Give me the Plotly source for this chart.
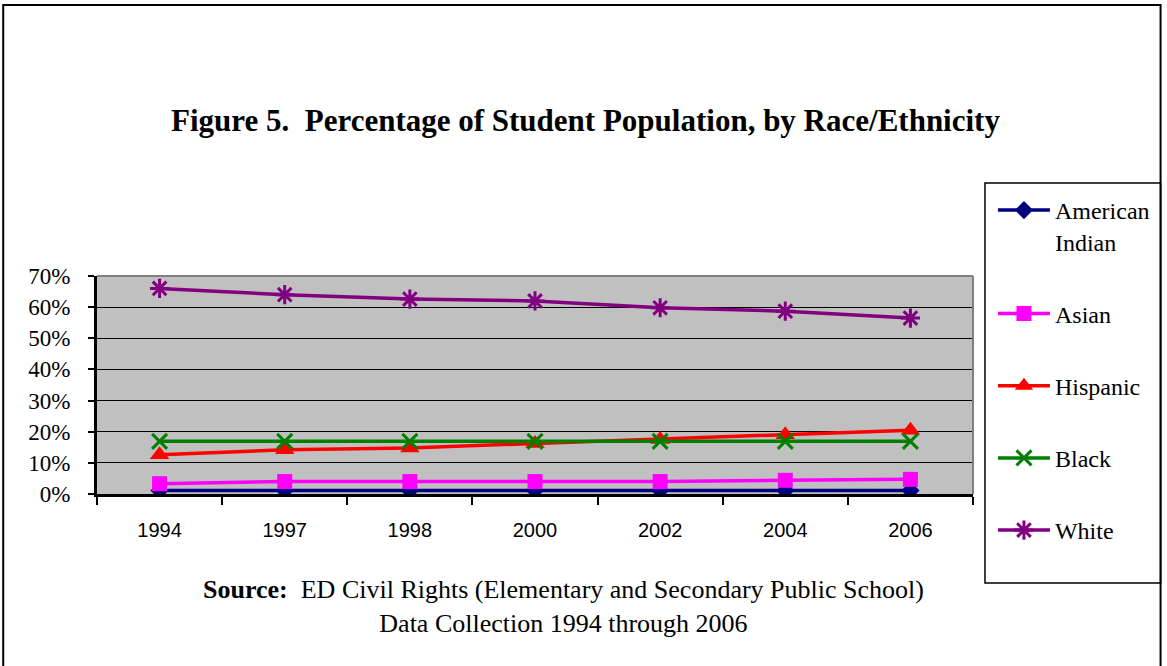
import plotly.graph_objects as go

years = ["1994", "1997", "1998", "2000", "2002", "2004", "2006"]
american_indian = [1.1, 1.1, 1.1, 1.1, 1.1, 1.1, 1.1]
asian = [3.3, 4.0, 4.0, 4.0, 4.0, 4.4, 4.7]
hispanic = [12.6, 14.2, 14.8, 16.2, 17.5, 19.0, 20.5]
black = [16.9, 16.9, 16.9, 16.9, 16.9, 16.9, 16.9]
white = [66.0, 64.0, 62.6, 62.0, 59.8, 58.7, 56.5]
y_ticks = [0, 10, 20, 30, 40, 50, 60, 70]
y_labels = [f"{v}%" for v in y_ticks]

series = [
    ("American<br>Indian", american_indian, "#000080", "diamond", 14),
    ("Asian", asian, "#FF00FF", "square", 15),
    ("Hispanic", hispanic, "#FF0000", "triangle-up", 17),
    ("Black", black, "#008000", "x-thin", 15),
    ("White", white, "#800080", "asterisk", 16),
]

W, H = 1167, 666
L, R, T, B = 97, 975, 276, 494

fig = go.Figure()
for i, (name, vals, col, sym, sz) in enumerate(series):
    thin = sym in ("x-thin", "asterisk")
    fig.add_trace(go.Scatter(
        x=years, y=vals, name=name, mode="lines+markers",
        legendgroup=f"g{i}",
        line=dict(color=col, width=3.5),
        marker=dict(symbol=sym, size=sz, color=col,
                    line=dict(color=col, width=3 if thin else 0)),
    ))

def px(x):
    return (x - L) / (R - L)

def py(y):
    return (B - y) / (B - T)

fig.update_layout(
    width=W, height=H,
    margin=dict(l=L, r=W - R, t=T, b=H - B, pad=0),
    paper_bgcolor="white",
    plot_bgcolor="#C0C0C0",
    font=dict(family="Liberation Serif", color="black"),
    showlegend=True,
    legend=dict(
        x=px(995), y=py(188), xanchor="left", yanchor="top",
        bgcolor="rgba(0,0,0,0)", borderwidth=0,
        font=dict(family="Liberation Serif", size=24, color="black"),
        tracegroupgap=38, valign="top", itemwidth=52,
        maxheight=600,
    ),
    xaxis=dict(
        type="category", showgrid=False,
        showline=True, linecolor="black", linewidth=3,
        ticks="outside", tickson="boundaries", ticklen=8, tickwidth=2, tickcolor="black",
        tickfont=dict(family="Liberation Sans", size=20, color="black"),
        ticklabelstandoff=16,
        range=[-0.5, 6.5],
    ),
    yaxis=dict(
        range=[0, 70], tickvals=y_ticks, ticktext=y_labels,
        showgrid=True, gridcolor="black", gridwidth=1,
        showline=True, linecolor="black", linewidth=3,
        ticks="outside", ticklen=6, tickwidth=2, tickcolor="black",
        tickfont=dict(family="Liberation Serif", size=23, color="black"),
        ticklabelstandoff=13,
        zeroline=False,
    ),
    shapes=[
        dict(type="rect", xref="paper", yref="paper",
             x0=px(3), x1=px(1163), y0=py(668), y1=py(5),
             line=dict(color="black", width=2), fillcolor="rgba(0,0,0,0)", layer="below"),
        dict(type="rect", xref="paper", yref="paper",
             x0=px(987), x1=px(1163), y0=py(583), y1=py(183),
             line=dict(color="black", width=1.5), fillcolor="rgba(0,0,0,0)"),
        dict(type="line", xref="paper", yref="paper",
             x0=0, x1=1, y0=1, y1=1, line=dict(color="#808080", width=2)),
        dict(type="line", xref="paper", yref="paper",
             x0=1, x1=1, y0=0, y1=1, line=dict(color="#808080", width=2)),
    ],
    annotations=[
        dict(text="<b>Figure 5.  Percentage of Student Population, by Race/Ethnicity</b>",
             xref="paper", yref="paper", x=px(587), y=py(121),
             xanchor="center", yanchor="middle", showarrow=False,
             font=dict(family="Liberation Serif", size=31, color="black")),
        dict(text="<b>Source:</b>  ED Civil Rights (Elementary and Secondary Public School)<br>Data Collection 1994 through 2006",
             xref="paper", yref="paper", x=px(565), y=py(606),
             xanchor="center", yanchor="middle", showarrow=False,
             font=dict(family="Liberation Serif", size=26, color="black")),
    ],
)

fig.write_html("out.html", config={"displayModeBar": False},
               post_script="document.body.style.margin='0px';")
